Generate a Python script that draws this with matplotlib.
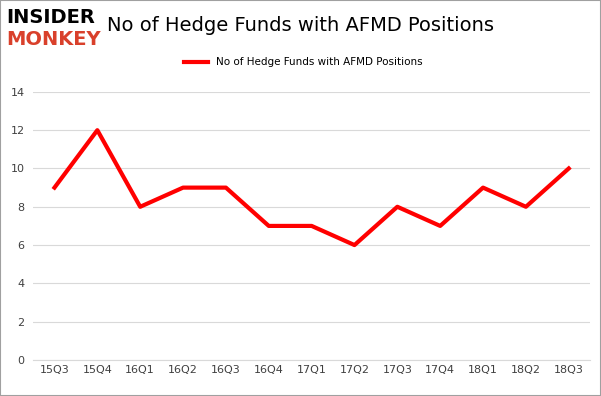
import matplotlib.pyplot as plt

quarters = ['15Q3', '15Q4', '16Q1', '16Q2', '16Q3', '16Q4', '17Q1',
            '17Q2', '17Q3', '17Q4', '18Q1', '18Q2', '18Q3']
funds = [9, 12, 8, 9, 9, 7, 7, 6, 8, 7, 9, 8, 10]


def main():
    fig = plt.figure(figsize=(6.01, 3.96), dpi=100)
    ax = fig.add_axes([0.055, 0.091, 0.927, 0.677])
    ax.plot(quarters, funds, color='#ff0000', linewidth=3,
            label='No of Hedge Funds with AFMD Positions')
    ax.set_ylim(0, 14)
    ax.set_yticks(range(0, 15, 2))
    ax.set_xlim(-0.5, len(quarters) - 0.5)
    ax.grid(axis='y', color='#d9d9d9', linewidth=0.8)
    ax.set_axisbelow(True)
    for s in ['top', 'right', 'left']:
        ax.spines[s].set_visible(False)
    ax.spines['bottom'].set_color('#d9d9d9')
    ax.tick_params(length=0, labelsize=8, colors='#404040')
    ax.tick_params(axis='y', pad=6)
    fig.text(0.5, 0.935, 'No of Hedge Funds with AFMD Positions',
             ha='center', va='center', fontsize=14)
    ax.legend(loc='center', bbox_to_anchor=(0.485, 1.11), frameon=False,
              fontsize=7.5, handlelength=2.3)
    fig.text(0.01, 0.955, 'INSIDER', fontsize=14, fontweight='bold',
             color='black', va='center')
    fig.text(0.01, 0.9, 'MONKEY', fontsize=14, fontweight='bold',
             color='#d9402b', va='center')
    fig.patches.append(plt.Rectangle((0, 0), 1, 1, transform=fig.transFigure,
                                     fill=False, edgecolor='#a0a0a0',
                                     linewidth=1.5))
    fig.savefig('out.png', dpi=100)


if __name__ == '__main__':
    main()
